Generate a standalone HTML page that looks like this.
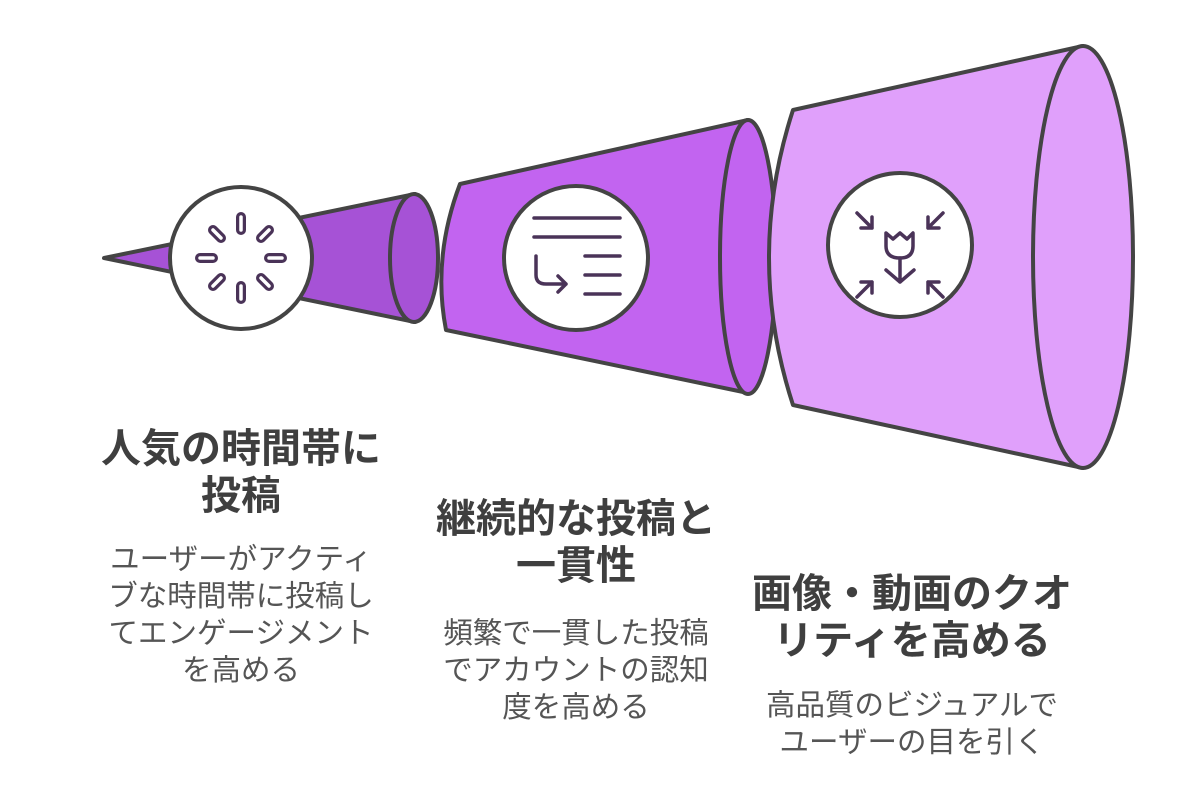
<!DOCTYPE html>
<html><head><meta charset="utf-8"><style>
body{margin:0;width:1184px;height:812px;background:#fff;overflow:hidden;position:relative;font-family:"Liberation Sans","Noto Sans CJK JP",sans-serif}
.t{position:absolute;text-align:center;font-weight:bold;color:#3f3f3f;font-size:40px;line-height:47px;white-space:nowrap}
.b{position:absolute;text-align:center;color:#555;font-size:29.5px;line-height:37px;white-space:nowrap}
</style></head><body>
<svg width="1184" height="812" style="position:absolute;left:0;top:0" fill="none" stroke-linecap="round" stroke-linejoin="round">
<g stroke="#444" stroke-width="4">
<path d="M104 258 L415 194 L415 322 Z" fill="#a652d6"/>
<ellipse cx="414" cy="258" rx="24" ry="64" fill="#a652d6"/>
<path d="M460 184 L748 120 L748 393 L446 330 Q432 258 460 184 Z" fill="#c264f0"/>
<ellipse cx="748" cy="257" rx="28" ry="137" fill="#c264f0"/>
<path d="M793 110 L1083 46 L1083 468 L793 405 Q745 258 793 110 Z" fill="#e0a0fb"/>
<ellipse cx="1083" cy="257" rx="50" ry="211" fill="#e0a0fb"/>
<circle cx="241" cy="258" r="71" fill="#fff"/>
<circle cx="576" cy="258" r="72" fill="#fff"/>
<circle cx="900" cy="245" r="72" fill="#fff"/>
</g>
<g stroke="#4a3358" stroke-width="3.5">
<g stroke-width="10">
<line x1="241" y1="217" x2="241" y2="230"/><line x1="241" y1="286" x2="241" y2="299"/>
<line x1="200" y1="258" x2="213" y2="258"/><line x1="269" y1="258" x2="282" y2="258"/>
<line x1="213" y1="230" x2="221" y2="238"/><line x1="261" y1="278" x2="269" y2="286"/>
<line x1="269" y1="230" x2="261" y2="238"/><line x1="213" y1="286" x2="221" y2="278"/>
</g>
<g stroke="#fff" stroke-width="3.5">
<line x1="241" y1="217" x2="241" y2="230"/><line x1="241" y1="286" x2="241" y2="299"/>
<line x1="200" y1="258" x2="213" y2="258"/><line x1="269" y1="258" x2="282" y2="258"/>
<line x1="213" y1="230" x2="221" y2="238"/><line x1="261" y1="278" x2="269" y2="286"/>
<line x1="269" y1="230" x2="261" y2="238"/><line x1="213" y1="286" x2="221" y2="278"/>
</g>
<line x1="534" y1="218" x2="620" y2="218"/><line x1="534" y1="237" x2="620" y2="237"/>
<line x1="585" y1="256" x2="620" y2="256"/><line x1="585" y1="275" x2="620" y2="275"/><line x1="585" y1="294" x2="620" y2="294"/>
<path d="M536 256 V275 Q536 284 546 284 H566 M558 276 L566 284 L558 292"/>
<path d="M857 213 L872 228 M872 217 V228 H861"/>
<path d="M943 213 L928 228 M928 217 V228 H939"/>
<path d="M857 297 L872 282 M861 282 H872 V293"/>
<path d="M943 297 L928 282 M939 282 H928 V293"/>
<path d="M886 233 L893 239 L900 233 L907 239 L913 233 V246 Q913 258 900 258 Q886 258 886 246 Z"/>
<path d="M900 258 V282 M886 270 L900 282 L914 270"/>
</g>
</svg>
<div class="t" style="left:41px;top:426px;width:400px">人気の時間帯に<br>投稿</div>
<div class="b" style="left:41px;top:541px;width:400px">ユーザーがアクティ<br>ブな時間帯に投稿し<br>てエンゲージメント<br>を高める</div>
<div class="t" style="left:376px;top:496px;width:400px">継続的な投稿と<br>一貫性</div>
<div class="b" style="left:376px;top:615px;width:400px">頻繁で一貫した投稿<br>でアカウントの認知<br>度を高める</div>
<div class="t" style="left:712px;top:571px;width:400px">画像・動画のクオ<br>リティを高める</div>
<div class="b" style="left:712px;top:687px;width:400px">高品質のビジュアルで<br>ユーザーの目を引く</div>
</body></html>
